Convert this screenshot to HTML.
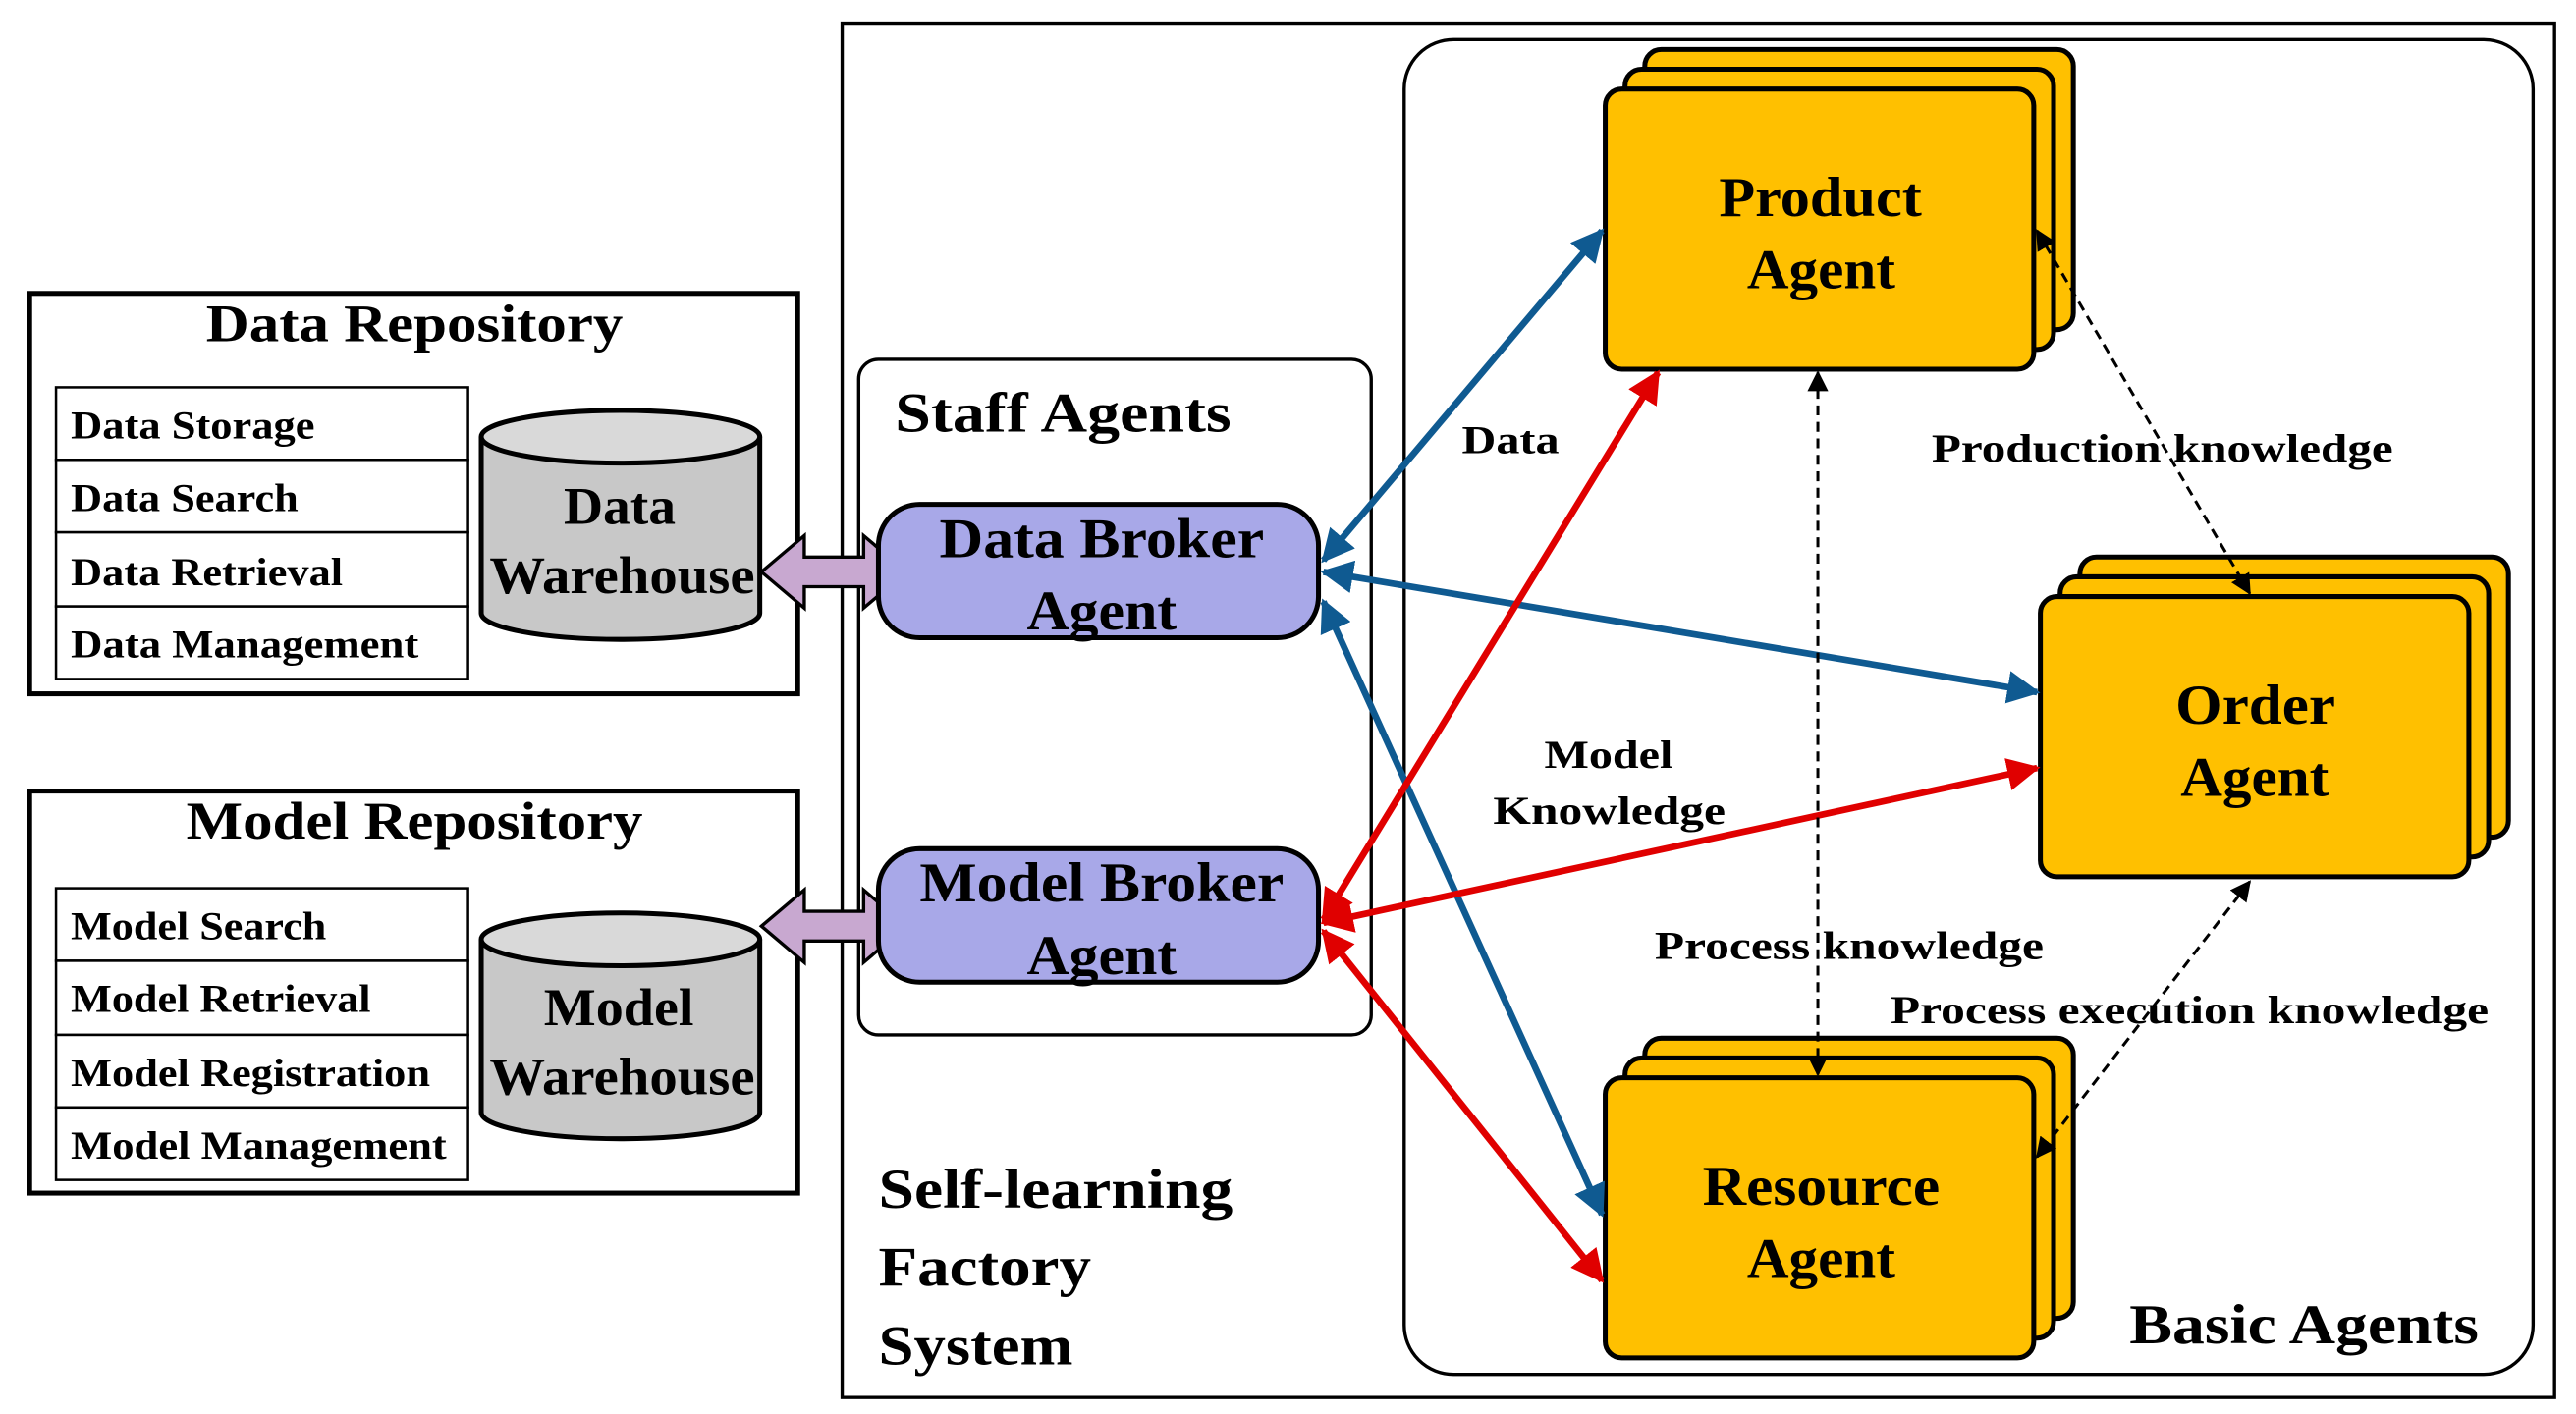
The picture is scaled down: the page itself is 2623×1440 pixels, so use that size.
<!DOCTYPE html>
<html><head><meta charset="utf-8"><style>
html,body{margin:0;padding:0;background:#fff;}
svg{display:block;}
text{font-family:"Liberation Serif",serif;font-weight:bold;fill:#000;}
</style></head><body>
<svg width="2623" height="1440" viewBox="0 0 1563 858" xmlns="http://www.w3.org/2000/svg">
<defs>
<marker id="ab" viewBox="0 0 10 10" refX="9" refY="5" markerWidth="5" markerHeight="5" orient="auto-start-reverse"><path d="M0,0 L10,5 L0,10 z" fill="#0f5a91"/></marker>
<marker id="ar" viewBox="0 0 10 10" refX="9" refY="5" markerWidth="5" markerHeight="5" orient="auto-start-reverse"><path d="M0,0 L10,5 L0,10 z" fill="#e00000"/></marker>
<marker id="ak" viewBox="0 0 10 10" refX="9" refY="5" markerWidth="7" markerHeight="7" orient="auto-start-reverse"><path d="M0,0 L10,5 L0,10 z" fill="#000"/></marker>
</defs>
<rect x="0" y="0" width="1563" height="858" fill="#fff"/>
<rect x="511" y="14" width="1039" height="834" fill="none" stroke="#000" stroke-width="2"/>
<rect x="852" y="24" width="685" height="810" rx="30" fill="none" stroke="#000" stroke-width="2"/>
<rect x="521" y="218" width="311" height="410" rx="12" fill="none" stroke="#000" stroke-width="2"/>
<g font-size="34" lengthAdjust="spacingAndGlyphs">
<text x="543" y="262" textLength="204" lengthAdjust="spacingAndGlyphs">Staff Agents</text>
<text x="533" y="733" textLength="215" lengthAdjust="spacingAndGlyphs">Self-learning</text>
<text x="533" y="780" textLength="129" lengthAdjust="spacingAndGlyphs">Factory</text>
<text x="533" y="828" textLength="118" lengthAdjust="spacingAndGlyphs">System</text>
<text x="1292" y="815" textLength="212" lengthAdjust="spacingAndGlyphs">Basic Agents</text>
</g>

<rect x="18" y="178" width="466" height="243" fill="#fff" stroke="#000" stroke-width="3"/>
<text x="125" y="207" font-size="32" textLength="253" lengthAdjust="spacingAndGlyphs">Data Repository</text>
<g stroke="#000" stroke-width="1.5" fill="#fff">
<rect x="34" y="235" width="250" height="44"/><rect x="34" y="279" width="250" height="44"/><rect x="34" y="323" width="250" height="45"/><rect x="34" y="368" width="250" height="44"/>
</g>
<g font-size="24">
<text x="43" y="266" textLength="148" lengthAdjust="spacingAndGlyphs">Data Storage</text>
<text x="43" y="310" textLength="138" lengthAdjust="spacingAndGlyphs">Data Search</text>
<text x="43" y="355" textLength="165" lengthAdjust="spacingAndGlyphs">Data Retrieval</text>
<text x="43" y="399" textLength="211" lengthAdjust="spacingAndGlyphs">Data Management</text></g>
<path d="M292,265 L292,372 A84.5,16 0 0 0 461,372 L461,265" fill="#c8c8c8" stroke="#000" stroke-width="3"/>
<ellipse cx="376.5" cy="265" rx="84.5" ry="16" fill="#d9d9d9" stroke="#000" stroke-width="3"/>
<text x="342" y="318" font-size="32" textLength="68" lengthAdjust="spacingAndGlyphs">Data</text>
<text x="297" y="360" font-size="32" textLength="161" lengthAdjust="spacingAndGlyphs">Warehouse</text>

<rect x="18" y="480" width="466" height="244" fill="#fff" stroke="#000" stroke-width="3"/>
<text x="113" y="509" font-size="32" textLength="277" lengthAdjust="spacingAndGlyphs">Model Repository</text>
<g stroke="#000" stroke-width="1.5" fill="#fff">
<rect x="34" y="539" width="250" height="44"/><rect x="34" y="583" width="250" height="45"/><rect x="34" y="628" width="250" height="44"/><rect x="34" y="672" width="250" height="44"/>
</g>
<g font-size="24">
<text x="43" y="570" textLength="155" lengthAdjust="spacingAndGlyphs">Model Search</text>
<text x="43" y="614" textLength="182" lengthAdjust="spacingAndGlyphs">Model Retrieval</text>
<text x="43" y="659" textLength="218" lengthAdjust="spacingAndGlyphs">Model Registration</text>
<text x="43" y="703" textLength="228" lengthAdjust="spacingAndGlyphs">Model Management</text></g>
<path d="M292,570 L292,675 A84.5,16 0 0 0 461,675 L461,570" fill="#c8c8c8" stroke="#000" stroke-width="3"/>
<ellipse cx="376.5" cy="570" rx="84.5" ry="16" fill="#d9d9d9" stroke="#000" stroke-width="3"/>
<text x="330" y="622" font-size="32" textLength="91" lengthAdjust="spacingAndGlyphs">Model</text>
<text x="297" y="664" font-size="32" textLength="161" lengthAdjust="spacingAndGlyphs">Warehouse</text>

<path d="M462,347 L488,325 L488,338 L524,338 L524,325 L550,347 L524,369 L524,356 L488,356 L488,369 Z" fill="#c8a8d0" stroke="#000" stroke-width="2"/>
<path d="M462,562 L488,540 L488,553 L524,553 L524,540 L550,562 L524,584 L524,571 L488,571 L488,584 Z" fill="#c8a8d0" stroke="#000" stroke-width="2"/>

<rect x="533" y="306" width="267" height="81" rx="25" fill="#a8a8e8" stroke="#000" stroke-width="3"/>
<text x="570" y="338" font-size="34" textLength="197" lengthAdjust="spacingAndGlyphs">Data Broker</text>
<text x="623" y="382" font-size="34" textLength="91" lengthAdjust="spacingAndGlyphs">Agent</text>
<rect x="533" y="515" width="267" height="81" rx="25" fill="#a8a8e8" stroke="#000" stroke-width="3"/>
<text x="558" y="547" font-size="34" textLength="221" lengthAdjust="spacingAndGlyphs">Model Broker</text>
<text x="623" y="591" font-size="34" textLength="91" lengthAdjust="spacingAndGlyphs">Agent</text>

<g fill="#ffc000" stroke="#000" stroke-width="3">
<rect x="998" y="30" width="260" height="170" rx="10"/><rect x="986" y="42" width="260" height="170" rx="10"/><rect x="974" y="54" width="260" height="170" rx="10"/>
<rect x="1262" y="338" width="260" height="170" rx="10"/><rect x="1250" y="350" width="260" height="170" rx="10"/><rect x="1238" y="362" width="260" height="170" rx="10"/>
<rect x="998" y="630" width="260" height="170" rx="10"/><rect x="986" y="642" width="260" height="170" rx="10"/><rect x="974" y="654" width="260" height="170" rx="10"/>
</g>
<g font-size="34">
<text x="1043" y="131" textLength="123" lengthAdjust="spacingAndGlyphs">Product</text><text x="1060" y="175" textLength="90" lengthAdjust="spacingAndGlyphs">Agent</text>
<text x="1320" y="439" textLength="97" lengthAdjust="spacingAndGlyphs">Order</text><text x="1323" y="483" textLength="90" lengthAdjust="spacingAndGlyphs">Agent</text>
<text x="1033" y="731" textLength="144" lengthAdjust="spacingAndGlyphs">Resource</text><text x="1060" y="775" textLength="90" lengthAdjust="spacingAndGlyphs">Agent</text>
</g>

<g stroke="#0f5a91" stroke-width="4" fill="none">
<line x1="803" y1="340" x2="972" y2="140" marker-start="url(#ab)" marker-end="url(#ab)"/>
<line x1="803" y1="347" x2="1236" y2="420" marker-start="url(#ab)" marker-end="url(#ab)"/>
<line x1="803" y1="365" x2="972" y2="737" marker-start="url(#ab)" marker-end="url(#ab)"/>
</g>
<g stroke="#e00000" stroke-width="4" fill="none">
<line x1="803" y1="558" x2="1006" y2="226" marker-start="url(#ar)" marker-end="url(#ar)"/>
<line x1="803" y1="560" x2="1236" y2="466" marker-start="url(#ar)" marker-end="url(#ar)"/>
<line x1="803" y1="565" x2="972" y2="777" marker-start="url(#ar)" marker-end="url(#ar)"/>
</g>
<g stroke="#000" stroke-width="1.8" stroke-dasharray="6,4" fill="none">
<line x1="1103" y1="226" x2="1103" y2="652" marker-start="url(#ak)" marker-end="url(#ak)"/>
<line x1="1236" y1="140" x2="1365" y2="360" marker-start="url(#ak)" marker-end="url(#ak)"/>
<line x1="1365" y1="535" x2="1236" y2="702" marker-start="url(#ak)" marker-end="url(#ak)"/>
</g>
<g font-size="24">
<text x="887" y="275" textLength="59" lengthAdjust="spacingAndGlyphs">Data</text>
<text x="937" y="466" textLength="78" lengthAdjust="spacingAndGlyphs">Model</text>
<text x="906" y="500" textLength="141" lengthAdjust="spacingAndGlyphs">Knowledge</text>
<text x="1172" y="280" textLength="280" lengthAdjust="spacingAndGlyphs">Production knowledge</text>
<text x="1004" y="582" textLength="236" lengthAdjust="spacingAndGlyphs">Process knowledge</text>
<text x="1147" y="621" textLength="363" lengthAdjust="spacingAndGlyphs">Process execution knowledge</text>
</g>
</svg>
</body></html>
